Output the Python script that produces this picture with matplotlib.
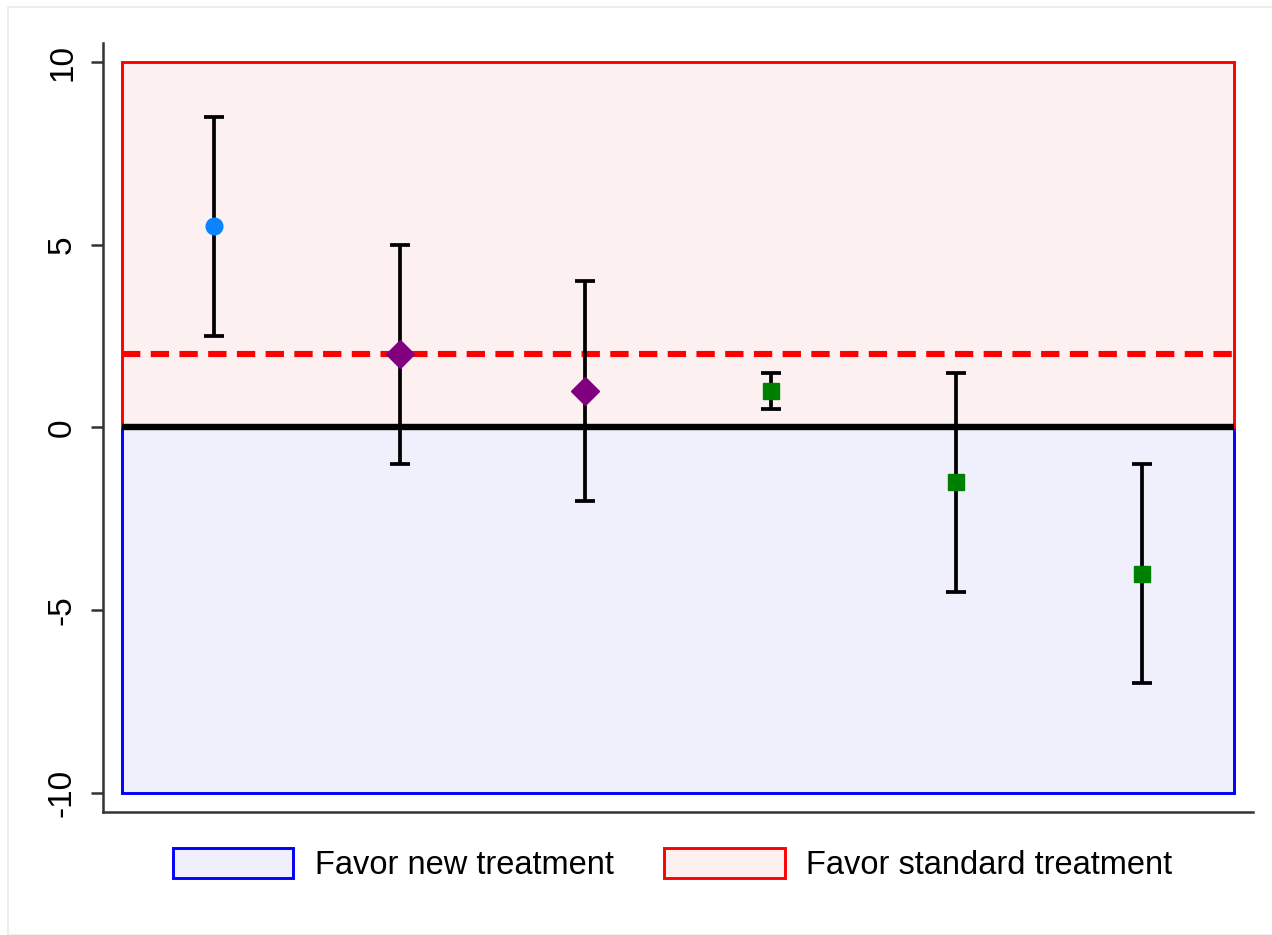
import matplotlib
matplotlib.use("Agg")
import matplotlib.pyplot as plt
from matplotlib.patches import Rectangle

# estimates and 95% intervals
positions = [1, 2, 3, 4, 5, 6]
estimates = [5.5, 2.0, 1.0, 1.0, -1.5, -4.0]
lower = [2.5, -1.0, -2.0, 0.5, -4.5, -7.0]
upper = [8.5, 5.0, 4.0, 1.5, 1.5, -1.0]
markers = ["o", "D", "D", "s", "s", "s"]
colors = ["#0A84FF", "#800080", "#800080", "#008000", "#008000", "#008000"]
sizes = [12, 14.5, 14.5, 12, 12, 12]

margin = 2.0
region_lo, region_hi = -10, 10
y_ticks = [-10, -5, 0, 5, 10]
legend_labels = ["Favor new treatment", "Favor standard treatment"]

plt.rcParams["font.family"] = ["Liberation Sans", "DejaVu Sans"]

fig = plt.figure(figsize=(12.72, 9.35), dpi=100)
ax = fig.add_axes([103 / 1272, 1 - 812 / 935, 1150 / 1272, (812 - 43) / 935])

x0 = positions[0] - 0.5
x1 = positions[-1] + 0.5

# shaded regions
blue_box = Rectangle((x0, region_lo), x1 - x0, 0 - region_lo,
                     facecolor="#F0F0FC", edgecolor="#0000FF", linewidth=2.1, zorder=1)
red_box = Rectangle((x0, 0), x1 - x0, region_hi,
                    facecolor="#FDF0F0", edgecolor="#FF0000", linewidth=2.1, zorder=1)
ax.add_patch(blue_box)
ax.add_patch(red_box)

# margin line and zero line
ax.hlines(margin, x0, x1, colors="#FF0000", linewidth=4.4,
          linestyles=(0, (3.0, 1.7)), zorder=2)
ax.hlines(0, x0, x1, colors="black", linewidth=4.6, zorder=3)

# intervals and point estimates
for x, est, lo, hi, m, c, s in zip(positions, estimates, lower, upper, markers, colors, sizes):
    ax.errorbar([x], [est], yerr=[[est - lo], [hi - est]], fmt="none",
                ecolor="black", elinewidth=2.7, capsize=7, capthick=2.7, zorder=4)
    ax.plot([x], [est], marker=m, color=c, markersize=s, linestyle="none", zorder=5)

ax.set_xlim(0.4, 6.6)
ax.set_ylim(-10.52, 10.52)
ax.set_xticks([])
ax.set_yticks(y_ticks)
ax.set_yticklabels([str(t) for t in y_ticks], rotation=90, va="center", fontsize=24)
ax.tick_params(axis="y", length=9, width=1.8, color="#333333", pad=9)

for side in ["top", "right"]:
    ax.spines[side].set_visible(False)
for side in ["left", "bottom"]:
    ax.spines[side].set_color("#333333")
    ax.spines[side].set_linewidth(1.8)

handles = [
    Rectangle((0, 0), 1, 1, facecolor="#F0F0FC", edgecolor="#0000FF", linewidth=2.1),
    Rectangle((0, 0), 1, 1, facecolor="#FDF0F0", edgecolor="#FF0000", linewidth=2.1),
]
fig.legend(handles, legend_labels, loc="center", bbox_to_anchor=(0.5287, 0.075),
           ncol=2, frameon=False, fontsize=23.5, handlelength=3.7, handleheight=1.0,
           handletextpad=0.65, columnspacing=1.55)

# faint outer border like the original graph region
fig.patches.append(Rectangle((8 / 1272, 0), 1, 1 - 7 / 935, transform=fig.transFigure,
                             fill=False, edgecolor="#E4ECEC", linewidth=1.2))

fig.savefig("out.png", dpi=100)
